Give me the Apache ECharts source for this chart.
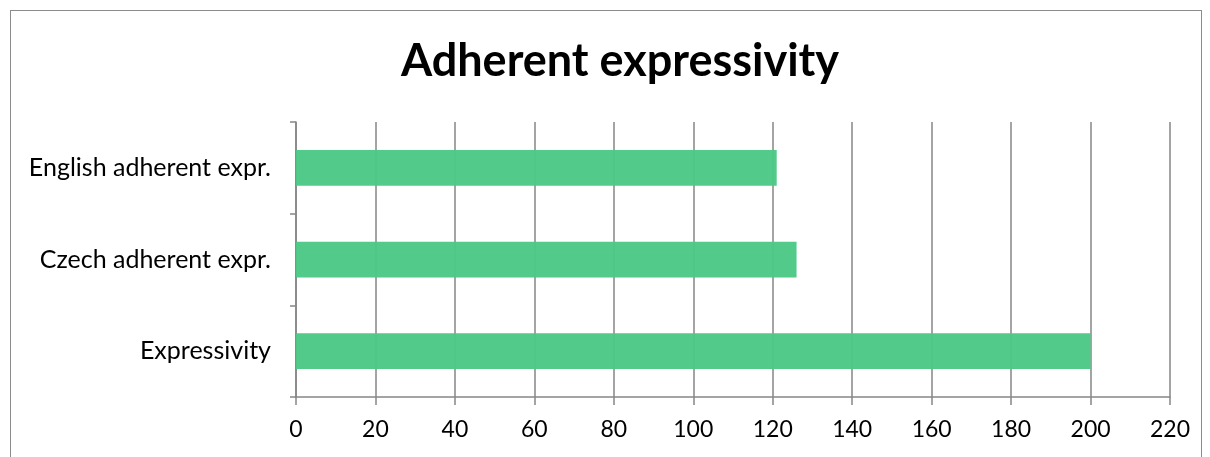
<!DOCTYPE html>
<html><head><meta charset="utf-8">
<script src="https://cdn.jsdelivr.net/npm/echarts@6/dist/echarts.min.js"></script>
<style>
html,body{margin:0;padding:0;background:#fff;}
#frame{position:absolute;left:10px;top:10px;width:1192px;height:460px;border:1px solid #8c8c8c;box-sizing:border-box;}
#chart{position:absolute;left:0;top:0;width:1210px;height:457px;}
</style></head>
<body>
<div id="frame"></div>
<div id="chart"></div>
<script>
const categories = ['Expressivity', 'Czech adherent expr.', 'English adherent expr.'];
const values = [200, 126, 121];
const xTicks = [0, 20, 40, 60, 80, 100, 120, 140, 160, 180, 200, 220];

const chart = echarts.init(document.getElementById('chart'), null, {renderer: 'canvas'});
chart.setOption({
  animation: false,
  title: {
    text: 'Adherent expressivity',
    left: 615, top: 34, textAlign: 'center',
    textStyle: {fontFamily: 'Lato', fontWeight: 'bold', fontSize: 45, color: '#000'}
  },
  grid: {left: 296, right: 40, top: 122, bottom: 60, containLabel: false},
  xAxis: {
    type: 'value', min: 0, max: 220, interval: 20,
    axisLine: {show: true, lineStyle: {color: '#868686', width: 1.5}},
    axisTick: {show: true, length: 8, lineStyle: {color: '#868686', width: 1.5}},
    splitLine: {show: true, lineStyle: {color: '#868686', width: 1.5}},
    axisLabel: {color: '#000', fontFamily: 'Lato', fontSize: 23, margin: 21,
      formatter: v => xTicks.includes(v) ? String(v) : ''}
  },
  yAxis: {
    type: 'category', data: categories,
    axisLine: {show: true, lineStyle: {color: '#868686', width: 1.5}},
    axisTick: {show: true, length: 6, lineStyle: {color: '#868686', width: 1.5}},
    axisLabel: {color: '#000', fontFamily: 'Lato', fontSize: 25, margin: 25}
  },
  series: [{
    type: 'bar', data: values, barWidth: '39%', z: 1,
    itemStyle: {color: '#4cc886', opacity: 0.97}
  }]
});
</script>
</body></html>
